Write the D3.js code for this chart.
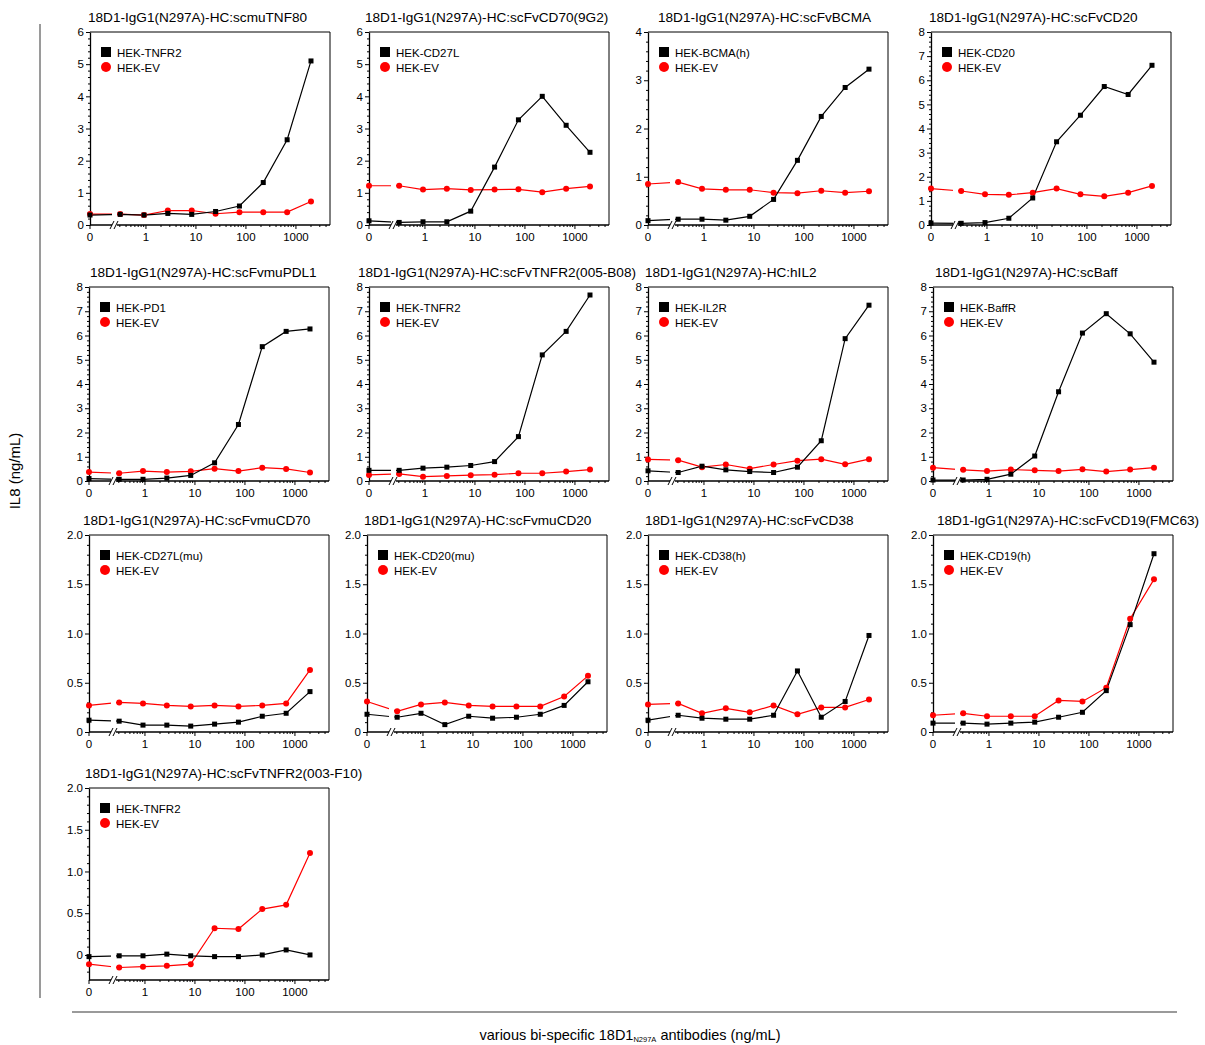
<!DOCTYPE html>
<html>
<head>
<meta charset="utf-8">
<script src="https://cdn.jsdelivr.net/npm/d3@7"></script>
<style>
  html, body { margin: 0; padding: 0; background: #fff; }
  svg { display: block; font-family: "Liberation Sans", Arial, Helvetica, sans-serif; }
</style>
</head>
<body>
<svg id="chart" width="1205" height="1045"></svg>
<script>
// Antibody concentrations (ng/mL): 0 plus a 3-fold dilution series from 2000
const concentrations = [0, 0.305, 0.914, 2.74, 8.23, 24.7, 74.1, 222, 667, 2000];
const xTickValues = [1, 10, 100, 1000];

const titles = [
  "18D1-IgG1(N297A)-HC:scmuTNF80",
  "18D1-IgG1(N297A)-HC:scFvCD70(9G2)",
  "18D1-IgG1(N297A)-HC:scFvBCMA",
  "18D1-IgG1(N297A)-HC:scFvCD20",
  "18D1-IgG1(N297A)-HC:scFvmuPDL1",
  "18D1-IgG1(N297A)-HC:scFvTNFR2(005-B08)",
  "18D1-IgG1(N297A)-HC:hIL2",
  "18D1-IgG1(N297A)-HC:scBaff",
  "18D1-IgG1(N297A)-HC:scFvmuCD70",
  "18D1-IgG1(N297A)-HC:scFvmuCD20",
  "18D1-IgG1(N297A)-HC:scFvCD38",
  "18D1-IgG1(N297A)-HC:scFvCD19(FMC63)",
  "18D1-IgG1(N297A)-HC:scFvTNFR2(003-F10)"
];

// Target-expressing cell line for each antibody
const targetCells = [
  "HEK-TNFR2", "HEK-CD27L", "HEK-BCMA(h)", "HEK-CD20",
  "HEK-PD1", "HEK-TNFR2", "HEK-IL2R", "HEK-BaffR",
  "HEK-CD27L(mu)", "HEK-CD20(mu)", "HEK-CD38(h)", "HEK-CD19(h)",
  "HEK-TNFR2"
];
const controlCell = "HEK-EV";

// IL8 (ng/mL) on target cells
const targetIL8 = [
  [0.31, 0.33, 0.31, 0.36, 0.33, 0.42, 0.59, 1.32, 2.65, 5.10],
  [0.13, 0.08, 0.10, 0.10, 0.43, 1.80, 3.27, 4.00, 3.10, 2.26],
  [0.09, 0.12, 0.12, 0.10, 0.18, 0.53, 1.34, 2.25, 2.85, 3.23],
  [0.08, 0.07, 0.10, 0.28, 1.12, 3.45, 4.55, 5.74, 5.41, 6.62],
  [0.10, 0.07, 0.07, 0.12, 0.23, 0.75, 2.33, 5.54, 6.17, 6.27],
  [0.44, 0.44, 0.53, 0.57, 0.64, 0.80, 1.83, 5.20, 6.17, 7.67],
  [0.42, 0.35, 0.61, 0.46, 0.39, 0.35, 0.57, 1.66, 5.87, 7.25],
  [0.04, 0.04, 0.07, 0.28, 1.03, 3.68, 6.10, 6.90, 6.07, 4.90],
  [0.12, 0.11, 0.07, 0.07, 0.06, 0.08, 0.10, 0.16, 0.19, 0.41],
  [0.18, 0.15, 0.19, 0.075, 0.16, 0.14, 0.15, 0.18, 0.27, 0.51],
  [0.12, 0.17, 0.14, 0.13, 0.13, 0.17, 0.62, 0.15, 0.31, 0.98],
  [0.09, 0.09, 0.08, 0.09, 0.10, 0.15, 0.20, 0.42, 1.09, 1.81],
  [-0.02, -0.01, -0.01, 0.01, -0.01, -0.02, -0.02, 0.00, 0.06, 0.00]
];

// IL8 (ng/mL) on empty-vector control cells
const controlIL8 = [
  [0.34, 0.34, 0.31, 0.45, 0.45, 0.35, 0.40, 0.40, 0.40, 0.73],
  [1.22, 1.22, 1.10, 1.13, 1.09, 1.10, 1.11, 1.02, 1.13, 1.20],
  [0.85, 0.89, 0.75, 0.73, 0.73, 0.67, 0.66, 0.71, 0.67, 0.70],
  [1.51, 1.41, 1.27, 1.25, 1.34, 1.51, 1.27, 1.19, 1.34, 1.62],
  [0.37, 0.32, 0.41, 0.37, 0.40, 0.51, 0.41, 0.55, 0.50, 0.35],
  [0.25, 0.29, 0.18, 0.21, 0.24, 0.26, 0.32, 0.32, 0.39, 0.47],
  [0.89, 0.86, 0.57, 0.68, 0.51, 0.68, 0.84, 0.90, 0.69, 0.90],
  [0.55, 0.46, 0.41, 0.47, 0.44, 0.41, 0.48, 0.39, 0.47, 0.55],
  [0.27, 0.30, 0.29, 0.27, 0.26, 0.27, 0.26, 0.27, 0.29, 0.63],
  [0.31, 0.21, 0.28, 0.30, 0.27, 0.26, 0.26, 0.26, 0.36, 0.57],
  [0.28, 0.29, 0.19, 0.24, 0.20, 0.27, 0.18, 0.25, 0.25, 0.33],
  [0.17, 0.19, 0.16, 0.16, 0.16, 0.32, 0.31, 0.45, 1.15, 1.55],
  [-0.11, -0.15, -0.14, -0.13, -0.11, 0.32, 0.31, 0.55, 0.60, 1.22]
];

// y-axis range and major tick step per panel
const yDomains = [
  [0, 6], [0, 6], [0, 4], [0, 8],
  [0, 8], [0, 8], [0, 8], [0, 8],
  [0, 2], [0, 2], [0, 2], [0, 2],
  [-0.3, 2]
];
const yTickSteps = [1, 1, 1, 1, 1, 1, 1, 1, 0.5, 0.5, 0.5, 0.5, 0.5];

// ---- layout ----
const panelW = 240;
const panelLayout = [
  {x: 90,  y: 32,  h: 193, tx: -2},
  {x: 369, y: 32,  h: 193, tx: -4},
  {x: 648, y: 32,  h: 193, tx: 10},
  {x: 931, y: 32,  h: 193, tx: -2},
  {x: 89,  y: 287, h: 194, tx: 1},
  {x: 369, y: 287, h: 194, tx: -11},
  {x: 648, y: 287, h: 194, tx: -3},
  {x: 933, y: 287, h: 194, tx: 2},
  {x: 89,  y: 535, h: 197, tx: -6},
  {x: 367, y: 535, h: 197, tx: -3},
  {x: 648, y: 535, h: 197, tx: -3},
  {x: 933, y: 535, h: 197, tx: 4},
  {x: 89,  y: 788, h: 192, tx: -4}
];

const RED = "#ff0000";
const svg = d3.select("#chart");

// outer guide lines
svg.append("line").attr("x1", 40).attr("x2", 40).attr("y1", 24).attr("y2", 998)
  .attr("stroke", "#9a9a9a").attr("stroke-width", 2);
svg.append("line").attr("x1", 72).attr("x2", 1177).attr("y1", 1012).attr("y2", 1012)
  .attr("stroke", "#9a9a9a").attr("stroke-width", 2);

// shared axis titles
svg.append("text")
  .attr("transform", "translate(20,471) rotate(-90)")
  .attr("text-anchor", "middle")
  .attr("font-size", 15)
  .text("IL8 (ng/mL)");

const xl = svg.append("text")
  .attr("x", 630).attr("y", 1040)
  .attr("text-anchor", "middle")
  .attr("font-size", 14.5);
xl.append("tspan").text("various bi-specific 18D1");
xl.append("tspan").attr("font-size", 7.5).attr("dy", 2).text("N297A");
xl.append("tspan").attr("dy", -2).text(" antibodies (ng/mL)");

const breakL = 22, breakR = 27;

titles.forEach((title, i) => {
  const L = panelLayout[i];
  const W = panelW, H = L.h;
  const g = svg.append("g").attr("transform", `translate(${L.x},${L.y})`);

  const x = d3.scaleLog().domain([0.076, 4800]).range([0, W]);
  const xPos = c => c === 0 ? 0 : x(c);
  const y = d3.scaleLinear().domain(yDomains[i]).range([H, 0]);

  // title
  g.append("text")
    .attr("x", L.tx).attr("y", -10)
    .attr("font-size", 13.6)
    .text(title);

  // frame (top + right)
  g.append("path")
    .attr("d", `M0,0H${W}V${H}`)
    .attr("fill", "none").attr("stroke", "#000").attr("stroke-width", 1);

  // y axis
  const [y0, y1] = yDomains[i];
  const step = yTickSteps[i];
  const majors = d3.range(Math.ceil(y0 / step) * step, y1 + 1e-9, step);
  const minors = d3.range(Math.ceil(y0 / (step / 5)) * (step / 5), y1 + 1e-9, step / 5)
    .filter(v => majors.every(m => Math.abs(m - v) > 1e-6));
  const fmt = step < 1 ? (d => Math.abs(d) < 1e-9 ? "0" : d.toFixed(1)) : d3.format("d");

  const yAxis = g.append("g")
    .call(d3.axisLeft(y).tickValues(majors).tickFormat(fmt).tickSize(4).tickSizeOuter(0));
  yAxis.select(".domain").attr("stroke-width", 1.3);
  yAxis.selectAll("text").attr("font-size", 11.5).attr("font-family", "inherit").attr("dx", "1");
  g.append("g")
    .call(d3.axisLeft(y).tickValues(minors).tickFormat("").tickSize(2).tickSizeOuter(0))
    .select(".domain").remove();

  // x axis (0 at the left edge, log scale beyond the break)
  const xAxis = g.append("g").attr("transform", `translate(0,${H})`);
  xAxis.append("line").attr("x1", 0).attr("x2", W).attr("stroke", "#000").attr("stroke-width", 1.3);
  const xMinor = [];
  [0.1, 1, 10, 100, 1000].forEach(dec => {
    for (let k = 2; k <= 9; k++) {
      const v = dec * k;
      if (v > 0.2 && v < 4800) xMinor.push(v);
    }
  });
  xAxis.selectAll(".xmin").data(xMinor).join("line")
    .attr("x1", d => x(d)).attr("x2", d => x(d)).attr("y1", 0).attr("y2", 2)
    .attr("stroke", "#000").attr("stroke-width", 1);
  const xMaj = [0].concat(xTickValues);
  xAxis.selectAll(".xmaj").data(xMaj).join("line")
    .attr("x1", d => xPos(d)).attr("x2", d => xPos(d)).attr("y1", 0).attr("y2", 4)
    .attr("stroke", "#000").attr("stroke-width", 1);
  xAxis.selectAll(".xlab").data(xMaj).join("text")
    .attr("x", d => xPos(d)).attr("y", 16)
    .attr("text-anchor", "middle").attr("font-size", 11.5)
    .text(d => d3.format("d")(d));

  // axis break mark
  xAxis.append("rect").attr("x", breakL).attr("y", -2).attr("width", breakR - breakL).attr("height", 4)
    .attr("fill", "#fff");
  [breakL, breakR - 1].forEach(bx => {
    xAxis.append("line")
      .attr("x1", bx - 2).attr("y1", 4).attr("x2", bx + 2).attr("y2", -4)
      .attr("stroke", "#000").attr("stroke-width", 1);
  });

  // clip so that the data lines stop at the break
  const clipId = `clip${i}`;
  const clip = g.append("clipPath").attr("id", clipId);
  clip.append("rect").attr("x", -10).attr("y", -20).attr("width", breakL + 10).attr("height", H + 40);
  clip.append("rect").attr("x", breakR).attr("y", -20).attr("width", W - breakR + 10).attr("height", H + 40);

  const line = d3.line().x((d, j) => xPos(concentrations[j])).y(d => y(d));

  const series = [
    {values: controlIL8[i], color: RED, shape: "circle"},
    {values: targetIL8[i], color: "#000", shape: "square"}
  ];
  series.forEach(s => {
    g.append("path")
      .attr("d", line(s.values))
      .attr("fill", "none").attr("stroke", s.color).attr("stroke-width", 1.2)
      .attr("clip-path", `url(#${clipId})`);
  });
  series.forEach(s => {
    if (s.shape === "circle") {
      g.selectAll(null).data(s.values).join("circle")
        .attr("cx", (d, j) => xPos(concentrations[j])).attr("cy", d => y(d))
        .attr("r", 3).attr("fill", s.color);
    } else {
      g.selectAll(null).data(s.values).join("rect")
        .attr("x", (d, j) => xPos(concentrations[j]) - 2.5).attr("y", d => y(d) - 2.5)
        .attr("width", 5).attr("height", 5).attr("fill", s.color);
    }
  });

  // legend
  const lg = g.append("g").attr("transform", "translate(11,15)");
  lg.append("rect").attr("x", 0).attr("y", 0).attr("width", 10).attr("height", 10).attr("fill", "#000");
  lg.append("text").attr("x", 16).attr("y", 9.5).attr("font-size", 11.5).text(targetCells[i]);
  lg.append("circle").attr("cx", 5).attr("cy", 20).attr("r", 5).attr("fill", RED);
  lg.append("text").attr("x", 16).attr("y", 24.5).attr("font-size", 11.5).text(controlCell);
});
</script>
</body>
</html>
